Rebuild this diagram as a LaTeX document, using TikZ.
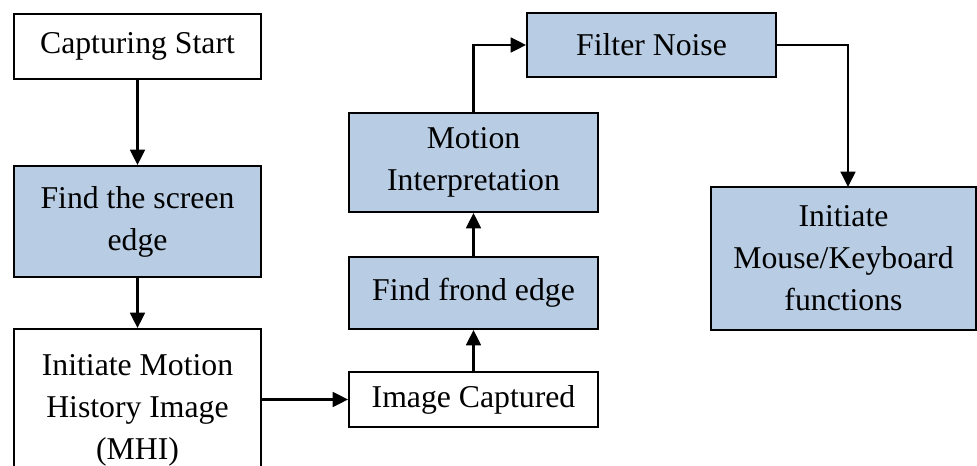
\documentclass[tikz,border=0pt]{standalone}
\usepackage{fontspec}
\setmainfont{Liberation Serif}
\usetikzlibrary{arrows.meta}
\definecolor{boxblue}{HTML}{B8CCE4}
\tikzset{
  flowbox/.style={draw=black, line width=1.4pt, inner sep=0pt, align=center,
    font=\fontsize{23.8}{31.5}\selectfont},
  plainbox/.style={flowbox, fill=white},
  bluebox/.style={flowbox, fill=boxblue},
  flowarrow/.style={line width=1.9pt, -{Triangle[length=11.5pt,width=11pt]}}
}
\begin{document}
\begin{tikzpicture}[x=0.75pt, y=-0.75pt]
  \useasboundingbox (0,0) rectangle (977,466);
  \begin{scope}
  \clip (0,0) rectangle (977,466);
  % left column
  \node[plainbox, minimum width=185.25pt, minimum height=48.75pt] (cap) at (137.5,46.5) {Capturing Start};
  \node[bluebox, minimum width=185.25pt, minimum height=83.25pt] (scr) at (137.5,221.5) {Find the screen\\edge};
  \node[plainbox, minimum width=185.25pt, minimum height=121.5pt] (mhi) at (137.5,410) {Initiate Motion\\History Image\\(MHI)};
  % middle column
  \node[plainbox, minimum width=186.75pt, minimum height=41.25pt] (ic) at (473.5,399.5) {Image Captured};
  \node[bluebox, minimum width=186.75pt, minimum height=54pt] (ffe) at (473.5,293) {Find frond edge};
  \node[bluebox, minimum width=186.75pt, minimum height=74.25pt] (mi) at (473.5,162.5) {Motion\\Interpretation};
  % top and right
  \node[bluebox, minimum width=186.75pt, minimum height=48pt] (fn) at (651.5,45) {Filter Noise};
  \node[bluebox, minimum width=198.75pt, minimum height=107.25pt] (mk) at (843.5,258.5) {Initiate\\Mouse/Keyboard\\functions};
  \coordinate (mkin) at (848,187);
  % connectors
  \draw[flowarrow] (cap.south) -- (scr.north);
  \draw[flowarrow] (scr.south) -- (mhi.north);
  \draw[flowarrow] (mhi.east |- ic.west) -- (ic.west);
  \draw[flowarrow] (ic.north) -- (ffe.south);
  \draw[flowarrow] (ffe.north) -- (mi.south);
  \draw[flowarrow] (mi.north) |- (fn.west);
  \draw[flowarrow] (fn.east) -| (mkin);
  \end{scope}
\end{tikzpicture}
\end{document}
